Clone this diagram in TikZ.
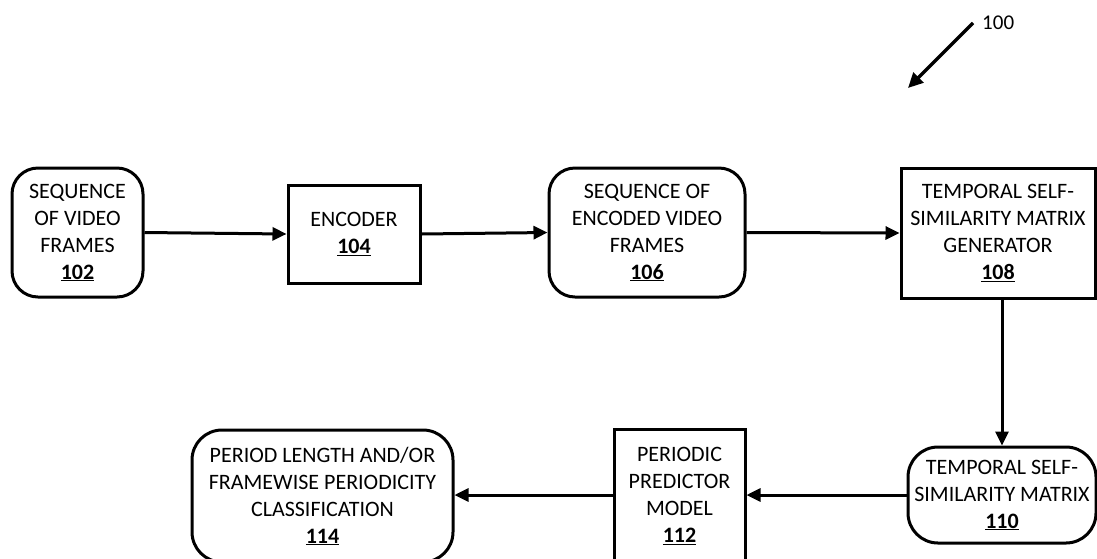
\documentclass[tikz,border=0pt]{standalone}
\usepackage{fontspec}
\setmainfont{Carlito}
\usetikzlibrary{arrows.meta}
\begin{document}
\begin{tikzpicture}[x=1pt,y=-1pt,
  blk/.style={draw=black,line width=3pt,align=center,inner sep=0pt,
    font=\fontsize{22}{27}\selectfont},
  rbox/.style={blk,rounded corners=26pt},
  sbox/.style={blk},
  flow/.style={line width=3pt,-{Triangle[length=14pt,width=13pt]}}]
\newcommand{\refnum}[1]{\textbf{\underline{#1}}}
\useasboundingbox (0,0) rectangle (1097,558);
\clip (0,0) rectangle (1097,558);

% top row
\node[rbox,minimum width=131pt,minimum height=129pt] (n102) at (77.5,232.5)
  {SEQUENCE\\OF VIDEO\\FRAMES\\\refnum{102}};
\node[sbox,minimum width=132pt,minimum height=98pt] (n104) at (354,234)
  {ENCODER\\\refnum{104}};
\node[rbox,minimum width=196pt,minimum height=129pt] (n106) at (647,232.5)
  {SEQUENCE OF\\ENCODED VIDEO\\FRAMES\\\refnum{106}};
\node[sbox,minimum width=194pt,minimum height=130pt] (n108) at (998,233)
  {TEMPORAL SELF-\\SIMILARITY MATRIX\\GENERATOR\\\refnum{108}};

% bottom row
\node[rbox,rounded corners=30pt,minimum width=188pt,minimum height=96pt] (n110) at (1002,495)
  {TEMPORAL SELF-\\SIMILARITY MATRIX\\\refnum{110}};
\node[sbox,minimum width=131pt,minimum height=134pt] (n112) at (679.5,496)
  {PERIODIC\\PREDICTOR\\MODEL\\\refnum{112}};
\node[rbox,rounded corners=30pt,minimum width=261pt,minimum height=132pt] (n114) at (322.5,496)
  {PERIOD LENGTH AND/OR\\FRAMEWISE PERIODICITY\\CLASSIFICATION\\\refnum{114}};

% connectors
\draw[flow] (n102.east) -- (n104.west);
\draw[flow] (n104.east) -- (n106.west);
\draw[flow] (n106.east) -- (n108.west);
\draw[flow] (n108.south -| n110.north) -- (n110.north);
\draw[flow] (n110.west) -- (n110.west -| n112.east);
\draw[flow] (n112.west |- n110.west) -- (n110.west -| n114.east);

% reference numeral of the figure
\node[font=\fontsize{21}{24}\selectfont,anchor=west,inner sep=0pt] (l100) at (982,23) {100};
\coordinate (s100) at (973,23);
\coordinate (t100) at (908,88);
\draw[line width=3.4pt,-{Triangle[length=15pt,width=14pt]}] (s100) -- (t100);
\end{tikzpicture}
\end{document}
